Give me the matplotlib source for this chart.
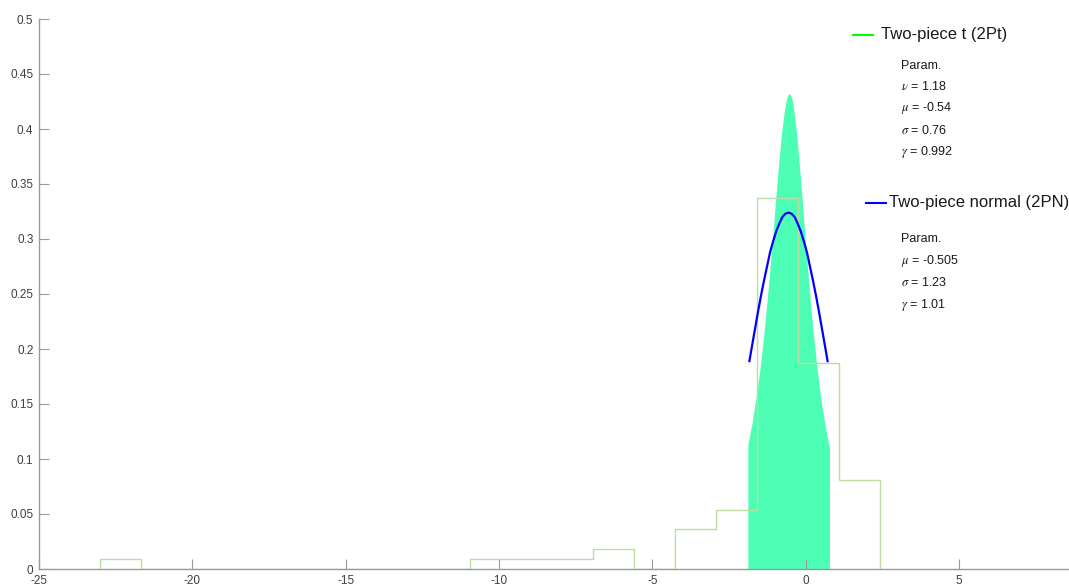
import matplotlib as mpl
mpl.use('Agg')
import matplotlib.pyplot as plt
import numpy as np

plt.rcParams['font.family'] = ['Liberation Sans', 'DejaVu Sans']
plt.rcParams['mathtext.fontset'] = 'stix'
plt.rcParams['axes.unicode_minus'] = False

# histogram of the data (bin edges and density heights)
edges = [-23.0, -21.66, -20.32, -18.98, -17.65, -16.31, -14.97, -13.63, -12.29, -10.95,
         -9.62, -8.28, -6.94, -5.60, -4.26, -2.92, -1.59, -0.25, 1.09, 2.43]
heights = [0.009, 0, 0, 0, 0, 0, 0, 0, 0, 0.009,
           0.009, 0.009, 0.018, 0, 0.036, 0.054, 0.337, 0.187, 0.081]

# two-piece t density (filled)
t_x = [-1.89, -1.75, -1.6, -1.5, -1.4, -1.3, -1.2, -1.1, -1.0, -0.9, -0.8, -0.7, -0.64, -0.6, -0.57,
       -0.54, -0.51, -0.48, -0.44, -0.38, -0.28, -0.18, -0.08, 0.02, 0.12, 0.22, 0.32, 0.42, 0.52,
       0.65, 0.77]
t_y = [0.113, 0.133, 0.160, 0.181, 0.205, 0.233, 0.263, 0.296, 0.330, 0.364, 0.394, 0.417, 0.426, 0.430, 0.4315,
       0.432, 0.4315, 0.430, 0.426, 0.415, 0.390, 0.357, 0.322, 0.286, 0.252, 0.221, 0.194, 0.170, 0.149,
       0.127, 0.110]

# two-piece normal density
n_x = [-1.84, -1.765, -1.665, -1.565, -1.465, -1.365, -1.265, -1.165, -1.065, -0.965, -0.865,
       -0.765, -0.665, -0.565, -0.465, -0.365, -0.265, -0.165, -0.065, 0.035, 0.135, 0.235,
       0.335, 0.435, 0.535, 0.635, 0.71]
n_y = [0.189, 0.201, 0.217, 0.233, 0.248, 0.262, 0.275, 0.288, 0.298, 0.307, 0.314,
       0.320, 0.323, 0.324, 0.323, 0.320, 0.314, 0.307, 0.298, 0.288, 0.275, 0.262,
       0.248, 0.233, 0.217, 0.201, 0.189]

pt_params = [r'$\nu$ = 1.18', r'$\mu$ = -0.54', r'$\sigma$ = 0.76', r'$\gamma$ = 0.992']
pn_params = [r'$\mu$ = -0.505', r'$\sigma$ = 1.23', r'$\gamma$ = 1.01']

W, H = 1069, 586
fig = plt.figure(figsize=(W/100, H/100), dpi=100)
ax = fig.add_axes([39/W, 17/H, 1030/W, 550/H])

ax.fill_between(t_x, 0, t_y, color='#4dffb4', linewidth=0, zorder=1)
ax.stairs(heights, edges, color='#bcdca2', linewidth=1.0, zorder=3)
ax.plot(n_x, n_y, color='#0000ff', linewidth=1.6, zorder=4)

ax.set_xlim(-25, 8.58)
ax.set_ylim(0, 0.5)
ax.set_xticks([-25, -20, -15, -10, -5, 0, 5])
ax.set_yticks(np.arange(0, 0.51, 0.05))
ax.set_yticklabels(['0', '0.05', '0.1', '0.15', '0.2', '0.25', '0.3', '0.35', '0.4', '0.45', '0.5'])
for s in ['top', 'right']:
    ax.spines[s].set_visible(False)
for s in ['left', 'bottom']:
    ax.spines[s].set_color('#999999')
    ax.spines[s].set_linewidth(1.0)
ax.tick_params(direction='in', length=7.5, width=0.8, color='#999999',
               labelsize=8.5, labelcolor='#404040', pad=4)

# legend-like annotations in pixel positions
def px(x, y):
    return x / W, (H - y) / H

fig.add_artist(plt.Line2D([853/W, 873/W], [px(0, 35)[1]]*2, color='#00ff00',
                          linewidth=1.5, transform=fig.transFigure))
fig.text(*px(881, 35), 'Two-piece t (2Pt)', fontsize=12, va='center', color='#1a1a1a')
fig.text(*px(901, 66), 'Param.', fontsize=9, va='center', color='#1a1a1a')
for i, s in enumerate(pt_params):
    fig.text(*px(901, 86 + i*22), s, fontsize=9, va='center', color='#1a1a1a')

fig.add_artist(plt.Line2D([866/W, 886/W], [px(0, 203)[1]]*2, color='#0000ff',
                          linewidth=1.5, transform=fig.transFigure))
fig.text(*px(889, 203), 'Two-piece normal (2PN)', fontsize=12, va='center', color='#1a1a1a')
fig.text(*px(901, 239), 'Param.', fontsize=9, va='center', color='#1a1a1a')
for i, s in enumerate(pn_params):
    fig.text(*px(901, 261 + i*22), s, fontsize=9, va='center', color='#1a1a1a')

fig.savefig('out.png', dpi=100)
